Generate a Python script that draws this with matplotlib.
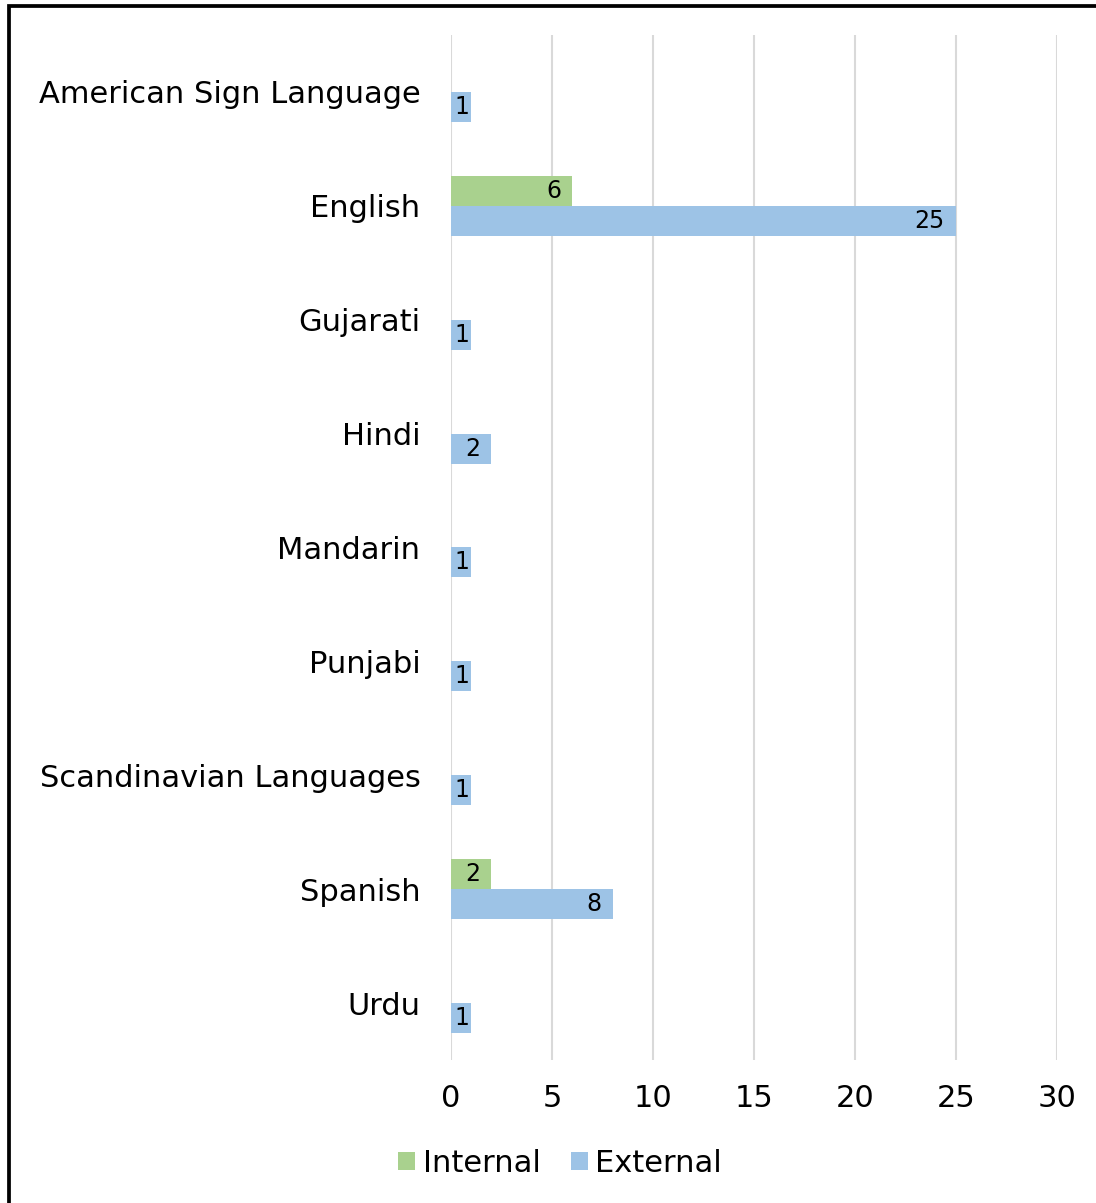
import matplotlib.pyplot as plt
import numpy as np
from matplotlib.patches import Rectangle

# Languages spoken, internal vs external
languages = ['American Sign Language', 'English', 'Gujarati', 'Hindi', 'Mandarin',
             'Punjabi', 'Scandinavian Languages', 'Spanish', 'Urdu']
internal = [0, 6, 0, 0, 0, 0, 0, 2, 0]
external = [1, 25, 1, 2, 1, 1, 1, 8, 1]

GREEN = '#a9d18e'
BLUE = '#9dc3e6'

plt.rcParams['font.family'] = ['DejaVu Sans']

fig = plt.figure(figsize=(10.96, 12.03), dpi=100)
ax = fig.add_axes([0.4115, 0.1189, 0.553, 0.852])

y = np.arange(len(languages))
h = 0.263

bars_int = ax.barh(y - h / 2, internal, height=h, color=GREEN, label='Internal', zorder=2)
bars_ext = ax.barh(y + h / 2, external, height=h, color=BLUE, label='External', zorder=2)

# Value labels at the inside end of each bar (skip empty bars)
for bars, vals in ((bars_int, internal), (bars_ext, external)):
  for bar, v in zip(bars, vals):
    if v == 0:
      continue
    cy = bar.get_y() + bar.get_height() / 2
    off = -1.5 if v < 2 else -8
    ax.annotate(str(v), xy=(v, cy), xytext=(off, 0), textcoords='offset points',
                ha='right', va='center', fontsize=17, color='black', zorder=3)

ax.set_xlim(0, 30)
ax.set_ylim(len(languages) - 0.5, -0.5)
ax.set_xticks(range(0, 31, 5))
ax.set_yticks(y)
ax.set_yticklabels(languages)
ax.tick_params(axis='y', length=0, pad=22, labelsize=22)
ax.tick_params(axis='x', length=0, pad=17, labelsize=22)
ax.grid(axis='x', color='#d9d9d9', linewidth=1.5, zorder=0)
ax.set_axisbelow(True)
for s in ax.spines.values():
  s.set_visible(False)

ax.legend(loc='upper center', bbox_to_anchor=(0.18, -0.066), ncol=2, frameon=False,
          fontsize=22, handlelength=0.55, handleheight=0.55, handletextpad=0.25,
          columnspacing=1.0, borderpad=0.2)

# Black frame along the top and left edges
fig.add_artist(Rectangle((0.0078, -0.2), 2, 1.195, transform=fig.transFigure,
                         fill=False, edgecolor='black', linewidth=2.7))

fig.savefig('out.png', dpi=100)
